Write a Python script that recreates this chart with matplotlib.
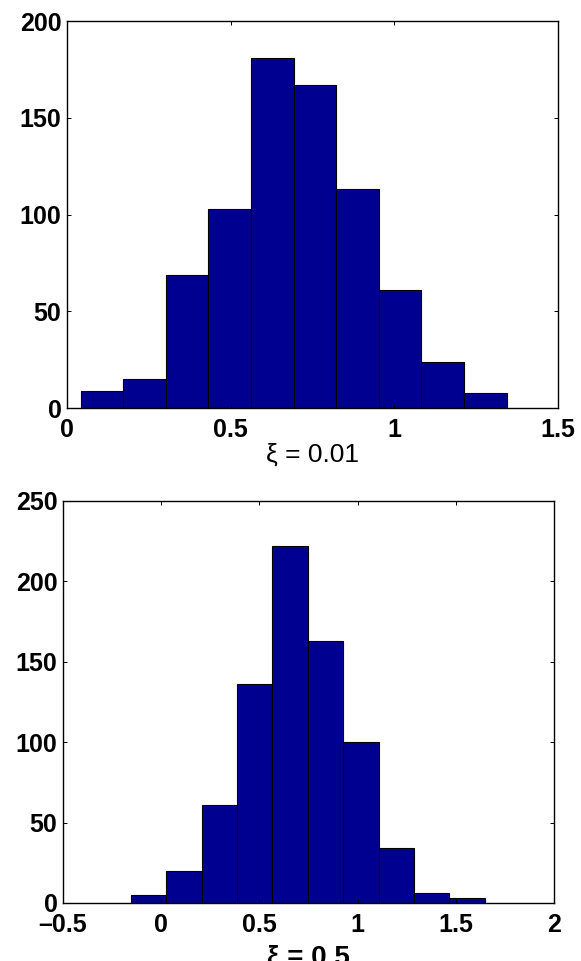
import numpy as np
import matplotlib.pyplot as plt

plt.rcParams['font.family'] = ['Liberation Sans', 'DejaVu Sans']

# bin edges and counts
edges_a = [0.042, 0.172, 0.302, 0.432, 0.562, 0.693, 0.823, 0.953, 1.083, 1.213, 1.343]
counts_a = [9, 15, 69, 103, 181, 167, 113, 61, 24, 8]
edges_b = [-0.154, 0.026, 0.206, 0.386, 0.566, 0.747, 0.927, 1.107, 1.287, 1.467, 1.647]
counts_b = [5, 20, 61, 136, 222, 163, 100, 34, 6, 3]

xticks_a = [0, 0.5, 1, 1.5]
yticks_a = [0, 50, 100, 150, 200]
xticks_b = [-0.5, 0, 0.5, 1, 1.5, 2]
yticks_b = [0, 50, 100, 150, 200, 250]

bar_color = '#000090'

fig = plt.figure(figsize=(5.81, 9.61), dpi=100)
ax1 = fig.add_axes([0.1153, 0.5754, 0.8451, 0.4027])
ax2 = fig.add_axes([0.1084, 0.0604, 0.8451, 0.4183])

def draw(ax, edges, counts, xlim, ylim, xt, yt):
    ax.hist(edges[:-1], bins=edges, weights=counts, color=bar_color,
            edgecolor='black', linewidth=0.8)
    ax.set_xlim(xlim)
    ax.set_ylim(ylim)
    ax.set_xticks(xt)
    ax.set_yticks(yt)
    ax.set_xticklabels(['%g' % v if v >= 0 else '\u2013%g' % -v for v in xt])
    ax.tick_params(direction='in', length=3, width=0.7, top=True, right=True,
                   labelsize=18)
    ax.tick_params(axis='x', pad=7)
    ax.tick_params(axis='y', pad=4)
    for lab in ax.get_xticklabels() + ax.get_yticklabels():
        lab.set_fontweight('bold')
    for s in ax.spines.values():
        s.set_linewidth(1.0)

draw(ax1, edges_a, counts_a, (0, 1.5), (0, 200), xticks_a, yticks_a)
draw(ax2, edges_b, counts_b, (-0.5, 2), (0, 250), xticks_b, yticks_b)

ax1.set_xlabel('\u03be = 0.01', fontsize=19)
ax1.xaxis.set_label_coords(0.5, -0.12)
ax1.xaxis.label.set_va('center')

ax2.set_xlabel('\u03be = 0.5', fontsize=20, fontweight='bold')
ax2.xaxis.set_label_coords(0.5, -0.135)
ax2.xaxis.label.set_va('center')

fig.savefig('out.png', dpi=100)
